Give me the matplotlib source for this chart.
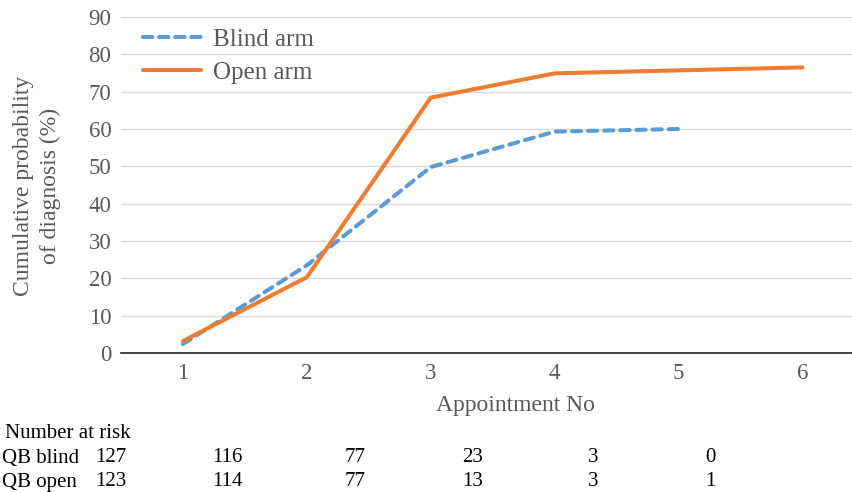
import matplotlib.pyplot as plt

plt.rcParams['font.family'] = ['Liberation Serif', 'DejaVu Serif']

appointments_blind = [1, 2, 3, 4, 5]
blind_arm = [2.4, 23.5, 49.8, 59.3, 60.0]
appointments_open = [1, 2, 3, 4, 5, 6]
open_arm = [3.2, 20.3, 68.4, 74.9, 75.7, 76.5]

risk_labels = ['QB blind', 'QB open']
risk_blind = [127, 116, 77, 23, 3, 0]
risk_open = [123, 114, 77, 13, 3, 1]

grey = '#595959'

fig = plt.figure(figsize=(8.52, 4.92), dpi=100)
ax = fig.add_axes([121 / 852, 1 - 353 / 492, 1 - 121 / 852, (353 - 17) / 492])

ax.plot(appointments_blind, blind_arm, color='#5B9BD5', lw=2.9, ls=(0, (2.3, 1.7)),
        label='Blind arm', solid_capstyle='round', dash_capstyle='round')
ax.plot(appointments_open, open_arm, color='#ED7D31', lw=2.9, label='Open arm',
        solid_capstyle='round')

ax.set_xlim(0.5, 6.4)
ax.set_ylim(0, 90)
ax.set_yticks(range(0, 91, 10))
ax.set_xticks(range(1, 7))
ax.grid(True, axis='y', color='#D9D9D9', lw=1)
ax.set_axisbelow(True)
for s in ['top', 'right', 'left']:
    ax.spines[s].set_visible(False)
ax.spines['bottom'].set_color('#262626')
ax.spines['bottom'].set_linewidth(1.2)
ax.tick_params(length=0, labelsize=16.5, colors=grey)
ax.tick_params(axis='x', pad=7)
ax.tick_params(axis='y', pad=7)

ax.set_xlabel('Appointment No', fontsize=17, color=grey)
ax.xaxis.set_label_coords((515 - 121) / (852 - 121), -(405 - 353) / (353 - 17),
                          transform=ax.transAxes)
ax.xaxis.label.set_va('center')
fig.text(37 / 852, 1 - 186 / 492, 'Cumulative probability\nof diagnosis (%)',
         rotation=90, ha='center', va='center', fontsize=17, color=grey,
         linespacing=1.3)

leg = ax.legend(loc='center left', bbox_to_anchor=(143 / 852, 1 - 56 / 492),
                bbox_transform=fig.transFigure, frameon=False, borderpad=0,
                borderaxespad=0, fontsize=18, handlelength=2.3,
                handletextpad=0.5, labelspacing=0.42)
for t in leg.get_texts():
    t.set_color(grey)

# number at risk table
col_x = [111, 227, 355, 473, 593, 710]
fig.text(5 / 852, 1 - 433 / 492, 'Number at risk', fontsize=15, va='center', color='black')
for label, row, yp in zip(risk_labels, [risk_blind, risk_open], [458, 482]):
    fig.text(2 / 852, 1 - yp / 492, label, fontsize=15, va='center', color='black')
    for xp, v in zip(col_x, row):
        fig.text(xp / 852, 1 - yp / 492, str(v), fontsize=15, va='center',
                 ha='center', color='black')

fig.savefig('out.png', dpi=100)
